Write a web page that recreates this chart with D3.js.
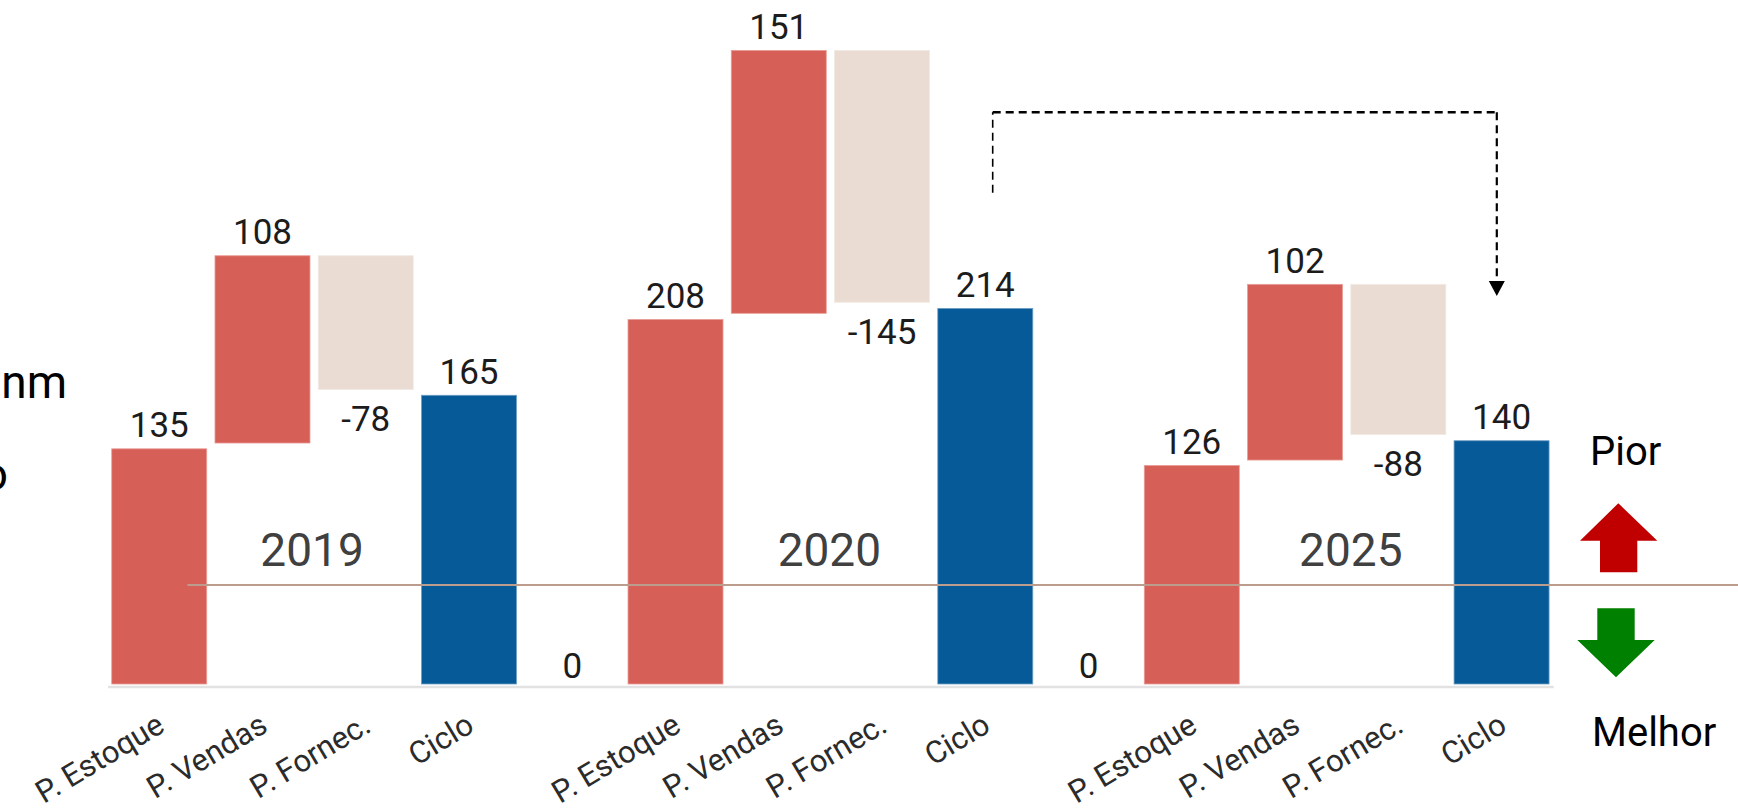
<!DOCTYPE html>
<html><head><meta charset="utf-8">
<style>html,body{margin:0;padding:0;background:#fff;overflow:hidden}svg{display:block}text{font-family:Roboto,sans-serif}</style>
<script src="https://cdn.jsdelivr.net/npm/d3@7/dist/d3.min.js"></script>
</head><body><svg id="c" width="1738" height="810"></svg>
<script>
const categories=["P. Estoque","P. Vendas","P. Fornec.","Ciclo","","P. Estoque","P. Vendas","P. Fornec.","Ciclo","","P. Estoque","P. Vendas","P. Fornec.","Ciclo"];
const labels=[135,108,-78,165,0,208,151,-145,214,0,126,102,-88,140];
const barLow=[0,137.3,167.8,0,0,0,211.2,217.5,0,0,0,127.6,142.2,0];
const barHigh=[134,244,244,164.5,0,207.7,361,361,214,0,124.5,227.7,227.7,138.6];
const kinds=["up","up","down","total","gap","up","up","down","total","gap","up","up","down","total"];
const years=["2019","2020","2025"];
const yearSlots=[1.48,6.49,11.54];
const colors={up:"#d66058",down:"#eadcd3",total:"#065a97",gap:"none"};
const edge={up:"#ea9c96",down:"#f2e9e3",total:"#6d9fc4",gap:"none"};

const svg=d3.select("#c");
const x=d3.scaleBand().domain(d3.range(categories.length)).range([107.6,1553.2]).paddingInner(0.08).paddingOuter(0.04);
const y=d3.scaleLinear().domain([0,214]).range([684,308.4]);

svg.selectAll("rect.bar").data(labels).join("rect").attr("class","bar")
  .attr("x",(d,i)=>x(i)).attr("width",x.bandwidth())
  .attr("y",(d,i)=>y(barHigh[i])).attr("height",(d,i)=>y(barLow[i])-y(barHigh[i]))
  .attr("fill",(d,i)=>colors[kinds[i]]).attr("stroke",(d,i)=>edge[kinds[i]]).attr("stroke-width",0.8);

svg.selectAll("text.val").data(labels).join("text").attr("class","val")
  .attr("x",(d,i)=>x(i)+x.bandwidth()/2)
  .attr("y",(d,i)=>d<0?y(barLow[i])+41.5:y(barHigh[i])-(d===0?6.5:11.5))
  .attr("text-anchor","middle").attr("font-size",35).attr("fill","#1c1c1c").text(d=>d);

const axis=d3.axisBottom(x).tickSize(0).tickFormat(i=>categories[i]);
const gx=svg.append("g").attr("transform","translate(0,686.5)").call(axis);
gx.select(".domain").attr("stroke","#e2e2e2").attr("stroke-width",2.5);
gx.selectAll("text").attr("font-size",31).attr("fill","#2b2b2b").attr("text-anchor","end")
  .attr("transform","translate(7,44) rotate(-31)").attr("dy",0).attr("y",0).attr("x",0);

svg.append("line").attr("x1",187.5).attr("x2",1738).attr("y1",585).attr("y2",585).attr("stroke","#bc9d8d").attr("stroke-width",2);

svg.selectAll("text.yr").data(years).join("text").attr("class","yr")
  .attr("x",(d,i)=>x(0)+x.step()*yearSlots[i]+x.bandwidth()/2).attr("y",566)
  .attr("text-anchor","middle").attr("font-size",46).attr("fill","#404040").text(d=>d);

// side notes
svg.append("text").attr("x",1590).attr("y",465).attr("font-size",40).attr("fill","#000").text("Pior");
svg.append("text").attr("x",1592).attr("y",746).attr("font-size",40).attr("fill","#000").text("Melhor");
svg.append("text").attr("x",67).attr("y",398).attr("text-anchor","end").attr("font-size",46).attr("fill","#000").text("nm");
svg.append("text").attr("x",8).attr("y",490).attr("text-anchor","end").attr("font-size",46).attr("fill","#000").text("o");

// direction arrows
const line=d3.line();
svg.append("path").attr("fill","#c00000").attr("d",line([[1618.3,503.3],[1657.3,540.7],[1637.3,540.7],[1637.3,572.3],[1600,572.3],[1600,540.7],[1580,540.7]])+"Z");
svg.append("path").attr("fill","#008000").attr("d",line([[1597.3,608.3],[1634.7,608.3],[1634.7,640],[1654.7,640],[1616,677.3],[1577.3,640],[1597.3,640]])+"Z");

// dashed connector
svg.append("path").attr("fill","none").attr("stroke","#000").attr("stroke-width",1.6).attr("stroke-dasharray","8 5").attr("d",line([[992.7,192.7],[992.7,112.3]]));
svg.append("path").attr("fill","none").attr("stroke","#000").attr("stroke-width",2.6).attr("stroke-dasharray","8 5").attr("d",line([[992.7,112.3],[1496.8,112.3]]));
svg.append("path").attr("fill","none").attr("stroke","#000").attr("stroke-width",2.2).attr("stroke-dasharray","8 5").attr("d",line([[1496.8,112.3],[1496.8,282]]));
svg.append("path").attr("fill","#000").attr("d",line([[1488.8,281],[1504.8,281],[1496.8,296]])+"Z");
</script></body></html>
